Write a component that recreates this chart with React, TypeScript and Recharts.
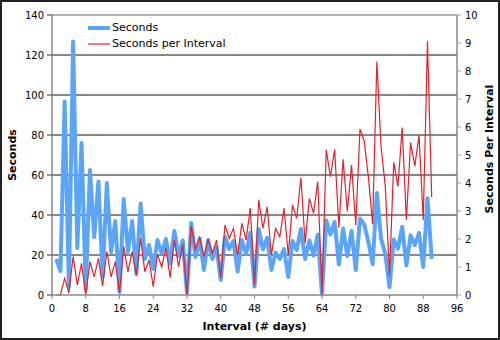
import React from 'react';
import { LineChart, Line, XAxis, YAxis, CartesianGrid, ReferenceLine, Legend } from 'recharts';

const intervals = [
  1, 2, 3, 4, 5, 6, 7, 8, 9, 10, 11, 12, 13, 14, 15, 16, 17, 18, 19, 20,
  21, 22, 23, 24, 25, 26, 27, 28, 29, 30, 31, 32, 33, 34, 35, 36, 37, 38, 39, 40,
  41, 42, 43, 44, 45, 46, 47, 48, 49, 50, 51, 52, 53, 54, 55, 56, 57, 58, 59, 60,
  61, 62, 63, 64, 65, 66, 67, 68, 69, 70, 71, 72, 73, 74, 75, 76, 77, 78, 79, 80,
  81, 82, 83, 84, 85, 86, 87, 88, 89, 90,
];

const seconds = [
  18, 12, 96.7, 4, 126.7, 23.5, 76, 3, 62.5, 29, 56.7, 9, 56, 21.5, 37, 1.5, 48, 21.5, 37, 10.5,
  45.8, 18, 25, 13, 27.5, 20.8, 28, 15.8, 32, 19.5, 27.3, 1, 36, 19, 28.3, 12.5, 27.5, 18, 23.8, 7.5,
  29, 23, 27, 11.7, 27.5, 20.4, 31.2, 4.2, 33, 22.8, 28.6, 12.5, 21.2, 18, 23, 9, 27, 22.5, 33, 18,
  27.3, 19.8, 30.2, 0.3, 37.3, 30.3, 36.5, 15.2, 33.2, 19.5, 32, 12.5, 38.2, 35.3, 26.5, 15.4, 51, 28.2, 20.7, 3.9,
  27.7, 23.2, 34.1, 14.8, 29.9, 24.9, 31.1, 14, 48.4, 18.1,
];

const secondsPerInterval = [
  0, 0, 0.6, 0.07, 1.37, 0.36, 1.13, 0, 1.19, 0.65, 1.31, 0.32, 1.55, 0.65, 1.19, 0.08, 1.73, 0.83, 1.55, 0.71,
  2.02, 0.83, 1.25, 0.3, 1.45, 1.0, 1.67, 0.62, 1.96, 1.01, 1.8, 0, 2.47, 1.63, 2.05, 1.37, 1.96, 1.49, 1.96, 0.6,
  2.5, 2.02, 2.38, 1.43, 2.56, 1.96, 3.1, 0.36, 3.39, 2.38, 3.15, 1.43, 2.38, 2.08, 3.1, 1.43, 3.21, 2.74, 4.19, 1.85,
  3.45, 2.92, 4.05, 0.06, 5.18, 4.23, 5.2, 2.4, 4.85, 2.98, 4.65, 2.5, 5.93, 5.5, 4.2, 2.53, 8.34, 5.3, 3.88, 0.7,
  4.74, 3.88, 5.98, 2.68, 5.44, 4.6, 5.7, 2.68, 9.06, 3.49,
];

const xTicks = [0, 8, 16, 24, 32, 40, 48, 56, 64, 72, 80, 88, 96];
const xMinorTicks = [2, 4, 6, 10, 12, 14, 18, 20, 22, 26, 28, 30, 34, 36, 38, 42, 44, 46, 50, 52, 54, 58, 60, 62, 66, 68, 70, 74, 76, 78, 82, 84, 86, 90, 92, 94];
const leftTicks = [0, 20, 40, 60, 80, 100, 120, 140];
const leftMinorTicks = [5, 10, 15, 25, 30, 35, 45, 50, 55, 65, 70, 75, 85, 90, 95, 105, 110, 115, 125, 130, 135];
const rightTicks = [0, 1, 2, 3, 4, 5, 6, 7, 8, 9, 10];
const gridValues = [20, 40, 60, 80, 100, 120];

const BLUE = '#5aa5f7';
const RED = '#e0222c';
const FONT = '"DejaVu Sans", Verdana, sans-serif';

const data = intervals.map((x, i) => ({
  x,
  seconds: seconds[i],
  spi: secondsPerInterval[i],
}));

const widths: Record<string, number> = { Seconds: 4, 'Seconds per Interval': 1.2 };

const renderLegend = (props: any) => {
  const payload = props.payload || [];
  return (
    <div style={{ fontFamily: FONT, fontSize: 11, color: '#000' }}>
      {payload.map((entry: any) => (
        <div key={entry.value} style={{ display: 'flex', alignItems: 'center', height: 16 }}>
          <svg width={24} height={16} style={{ display: 'block' }}>
            <line x1={0} x2={22} y1={8} y2={8} stroke={entry.color} strokeWidth={widths[entry.value] || 1} />
          </svg>
          <span style={{ marginLeft: 0, lineHeight: '16px' }}>{entry.value}</span>
        </div>
      ))}
    </div>
  );
};

const LeftLabel = (props: any) => {
  const vb = props.viewBox || {};
  const cx = vb.x + 12.5;
  const cy = vb.y + vb.height / 2;
  return (
    <text x={cx} y={cy} transform={`rotate(-90 ${cx} ${cy})`} textAnchor="middle" dominantBaseline="central"
      fontFamily={FONT} fontSize={11} fontWeight="bold" fill="#000">Seconds</text>
  );
};

const RightLabel = (props: any) => {
  const vb = props.viewBox || {};
  const cx = vb.x + 32.5;
  const cy = vb.y + vb.height / 2 - 6;
  return (
    <text x={cx} y={cy} transform={`rotate(-90 ${cx} ${cy})`} textAnchor="middle" dominantBaseline="central"
      fontFamily={FONT} fontSize={11} fontWeight="bold" fill="#000">Seconds Per Interval</text>
  );
};

const BottomLabel = (props: any) => {
  const vb = props.viewBox || {};
  const cx = vb.x + vb.width / 2;
  const cy = vb.y + 31.7;
  return (
    <text x={cx} y={cy} textAnchor="middle" dominantBaseline="central"
      fontFamily={FONT} fontSize={11} fontWeight="bold" fill="#000">Interval (# days)</text>
  );
};

export default function App() {
  return (
    <div style={{ position: 'absolute', left: 0, top: 0, width: 500, height: 340, background: '#fff' }}>
      <LineChart
        width={500}
        height={340}
        data={data}
        margin={{ top: 15, right: 0, bottom: 0, left: 0 }}
        style={{ fontFamily: FONT }}
      >
        <XAxis xAxisId="xm" dataKey="x" type="number" domain={[0, 96]} ticks={xMinorTicks}
          height={0} mirror tick={false} tickSize={3} axisLine={false} tickLine={{ stroke: '#aaa' }} />
        <XAxis xAxisId="x" dataKey="x" type="number" domain={[0, 96]} ticks={xTicks}
          height={45} tickSize={4} tickMargin={6} interval={0}
          axisLine={{ stroke: '#888', strokeWidth: 1.5 }} tickLine={{ stroke: '#888' }}
          tick={{ fontSize: 10, fill: '#000', fontFamily: FONT }}
          label={<BottomLabel />} />
        <YAxis yAxisId="lm" orientation="left" domain={[0, 140]} ticks={leftMinorTicks}
          width={0} mirror tick={false} tickSize={3} axisLine={false} tickLine={{ stroke: '#bbb' }} />
        <YAxis yAxisId="left" orientation="left" domain={[0, 140]} ticks={leftTicks} interval={0}
          width={52} tickSize={5} tickMargin={3}
          axisLine={{ stroke: '#888', strokeWidth: 1.5 }} tickLine={{ stroke: '#333' }}
          tick={{ fontSize: 10, fill: '#000', fontFamily: FONT }}
          label={<LeftLabel />} />
        <YAxis yAxisId="right" orientation="right" domain={[0, 10]} ticks={rightTicks} interval={0}
          width={43} tickSize={4} tickMargin={4}
          axisLine={{ stroke: '#888', strokeWidth: 1.5 }} tickLine={{ stroke: '#999' }}
          tick={{ fontSize: 10, fill: '#000', fontFamily: FONT }}
          label={<RightLabel />} />
        <CartesianGrid xAxisId="x" yAxisId="left" vertical={false} horizontalValues={gridValues} stroke="#111" strokeWidth={1} />
        <ReferenceLine xAxisId="x" yAxisId="left" y={140} stroke="#999" strokeWidth={1.5} />
        <Line xAxisId="x" yAxisId="left" dataKey="seconds" name="Seconds" type="linear"
          stroke={BLUE} strokeWidth={4} dot={false} activeDot={false} isAnimationActive={false} strokeLinejoin="round" />
        <Line xAxisId="x" yAxisId="right" dataKey="spi" name="Seconds per Interval" type="linear"
          stroke={RED} strokeWidth={1.2} dot={false} activeDot={false} isAnimationActive={false} />
        <Legend layout="vertical" align="center" verticalAlign="middle" content={renderLegend}
          wrapperStyle={{ position: 'absolute', left: 88, top: 20, width: 'auto', height: 'auto' }} />
      </LineChart>
      <div style={{ position: 'absolute', left: 0, top: 0, width: 500, height: 340, boxSizing: 'border-box', border: '2px solid #222', pointerEvents: 'none' }} />
    </div>
  );
}
